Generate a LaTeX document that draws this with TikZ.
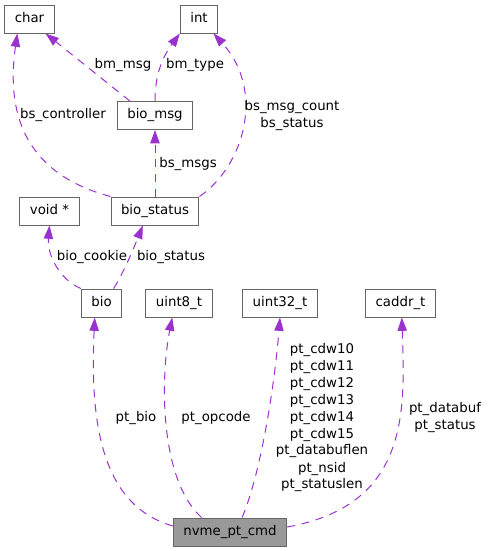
\documentclass[tikz,border=0pt]{standalone}
\usepackage{fontspec}
\setmainfont{DejaVu Sans}
\usetikzlibrary{arrows.meta}
\definecolor{edgecol}{HTML}{9A32CD}
\definecolor{boxcol}{HTML}{666666}
\definecolor{mainfill}{HTML}{999999}

\begin{document}
\begin{tikzpicture}[x=0.75pt, y=-0.75pt, >={Stealth[inset=0pt,length=10pt,width=7pt]},   % 1 unit = 1 px of the graph
    every node/.style={font=\fontsize{10}{12.75}\selectfont},
    box/.style={draw=boxcol, line width=0.75pt, fill=white, minimum height=21pt,
                inner xsep=7.5pt, text height=7.6pt, text depth=2.4pt},
    member/.style={->, color=edgecol, line width=0.75pt, dash pattern=on 6pt off 5pt},
    lbl/.style={align=center, inner sep=0pt}]
    \useasboundingbox (0,0) rectangle (487,551);

    % types
    \node[box] (char) at (29.5,19) {char};
    \node[box] (int) at (199,19) {int};
    \node[box] (biomsg) at (155,115.5) {bio\_msg};
    \node[box] (voidptr) at (49.5,211) {void *};
    \node[box] (biostatus) at (155,211) {bio\_status};
    \node[box] (bio) at (101.5,303) {bio};
    \node[box] (uinteight) at (179,303) {uint8\_t};
    \node[box] (uintthirtytwo) at (280,303) {uint32\_t};
    \node[box] (caddrt) at (400.5,303) {caddr\_t};
    \node[box, fill=mainfill] (ptcmd) at (230,532) {nvme\_pt\_cmd};

    % members
    \draw[member] (biomsg.150) -- (char.-42);
    \draw[member] (biomsg.north) .. controls (155,75) and (162,58) .. (int.south west);
    \draw[member] (biostatus.north west) .. controls (30,175) and (5,120) .. (char.-130);
    \draw[member] (biostatus.north) -- (biomsg.south);
    \draw[member] (biostatus.north east) .. controls (245,165) and (265,90) .. (int.-45);
    \draw[member] (bio.north west) .. controls (60,280) and (47,255) .. (voidptr.south);
    \draw[member] (bio.50) .. controls (125,270) and (135,245) .. (biostatus.-130);
    \draw[member] (ptcmd.174) .. controls (100,505) and (90,420) .. (bio.-115);
    \draw[member] (ptcmd.153) .. controls (160,480) and (160,380) .. (uinteight.-115);
    \draw[member] (ptcmd.50) .. controls (262,470) and (275,380) .. (uintthirtytwo.south);
    \draw[member] (ptcmd.5) .. controls (410,505) and (405,410) .. (caddrt.-85);

    % labels
    \node[lbl] (lbmmsg) at (123,65) {bm\_msg};
    \node[lbl] (lbmtype) at (195,65) {bm\_type};
    \node[lbl] (lbscontroller) at (63,115) {bs\_controller};
    \node[lbl] (lbsmsgs) at (188,164) {bs\_msgs};
    \node[lbl] (lbsmsgcount) at (292,115.5) {bs\_msg\_count\\bs\_status};
    \node[lbl] (lbiocookie) at (92,257) {bio\_cookie};
    \node[lbl] (lbiostatus) at (171,257) {bio\_status};
    \node[lbl] (lptbio) at (136,418) {pt\_bio};
    \node[lbl] (lptopcode) at (216,418) {pt\_opcode};
    \node[lbl] (lptcdw) at (322,417.5) {pt\_cdw10\\pt\_cdw11\\pt\_cdw12\\pt\_cdw13\\pt\_cdw14\\pt\_cdw15\\pt\_databuflen\\pt\_nsid\\pt\_statuslen};
    \node[lbl] (lptdatabuf) at (445,417) {pt\_databuf\\pt\_status};
\end{tikzpicture}
\end{document}
